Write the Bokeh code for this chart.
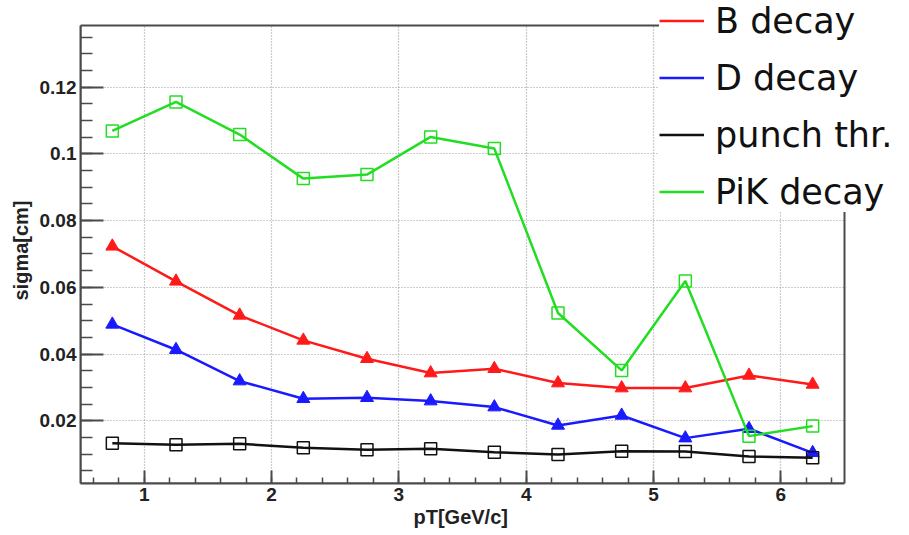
from bokeh.plotting import figure
from bokeh.models import FixedTicker, Legend, LegendItem, Range1d, BoxAnnotation, Title
from bokeh.embed import file_html
from bokeh.resources import INLINE

pt = [0.75, 1.25, 1.75, 2.25, 2.75, 3.25, 3.75, 4.25, 4.75, 5.25, 5.75, 6.25]
b_decay = [0.0723, 0.0618, 0.0516, 0.0441, 0.0386, 0.0343, 0.0356, 0.0313, 0.0298, 0.0298, 0.0336, 0.0309]
d_decay = [0.0489, 0.0413, 0.0319, 0.0266, 0.0269, 0.0259, 0.0241, 0.0186, 0.0216, 0.0148, 0.0176, 0.0104]
punch = [0.0133, 0.0128, 0.0131, 0.0119, 0.0113, 0.0116, 0.0106, 0.0099, 0.0109, 0.0108, 0.0093, 0.0089]
pik = [0.1069, 0.1156, 0.1058, 0.0926, 0.0938, 0.1051, 0.1016, 0.0523, 0.0351, 0.0619, 0.0154, 0.0184]

x_major = [1, 2, 3, 4, 5, 6]
x_minor = [round(0.6 + 0.2 * i, 2) for i in range(30)]
y_major = [0.02, 0.04, 0.06, 0.08, 0.1, 0.12]
y_minor = [round(0.005 * i, 3) for i in range(1, 28)]
y_labels = {0.02: "0.02", 0.04: "0.04", 0.06: "0.06", 0.08: "0.08", 0.1: "0.1", 0.12: "0.12"}

# axis frame extent (data units) and extra room used by the legend
X_LO, X_HI = 0.5, 6.5
Y_LO, Y_HI = 0.0012, 0.1385
X_VIEW_HI = X_LO + 829 * (X_HI - X_LO) / 764
Y_VIEW_HI = Y_HI + 25 * (Y_HI - Y_LO) / 458

FONT = "Liberation Sans"
RED = "#ff1a1a"
BLUE = "#1a1aff"
BLACK = "#111111"
GREEN = "#22dd22"
FRAME = "#4a4a4a"

p = figure(width=909, height=535, output_backend="svg", toolbar_location=None,
           x_range=Range1d(X_LO, X_VIEW_HI), y_range=Range1d(Y_LO, Y_VIEW_HI),
           min_border_left=80, min_border_right=0, min_border_top=0, min_border_bottom=52,
           background_fill_color="white", border_fill_color="white")
p.outline_line_color = None

p.xaxis.ticker = FixedTicker(ticks=x_major, minor_ticks=x_minor)
p.yaxis.ticker = FixedTicker(ticks=y_major, minor_ticks=y_minor)
p.yaxis.major_label_overrides = y_labels
p.xaxis.bounds = (X_LO, X_HI)
p.yaxis.bounds = (Y_LO, Y_HI)

for ax in (p.xaxis[0], p.yaxis[0]):
    ax.axis_line_color = FRAME
    ax.axis_line_width = 2
    ax.major_tick_line_color = FRAME
    ax.minor_tick_line_color = FRAME
    ax.major_tick_line_width = 2
    ax.minor_tick_line_width = 1.5
    ax.major_tick_out = 0
    ax.minor_tick_out = 0
    ax.major_label_text_font = FONT
    ax.major_label_text_font_style = "bold"
    ax.major_label_text_color = "#222222"

p.xaxis.major_tick_in = 13
p.xaxis.minor_tick_in = 6
p.yaxis.major_tick_in = 23
p.yaxis.minor_tick_in = 12
p.xaxis.major_label_text_font_size = "19px"
p.yaxis.major_label_text_font_size = "19px"
p.xaxis.major_label_standoff = 4
p.yaxis.major_label_standoff = 4

# axis titles, positioned along the (bounded) axes
p.add_layout(Title(text="pT[GeV/c]", align="left", offset=333, standoff=0,
                   text_font=FONT, text_font_size="20px", text_font_style="bold",
                   text_color="#222222"), "below")
p.add_layout(Title(text="sigma[cm]", align="left", offset=183, standoff=10,
                   text_font=FONT, text_font_size="20px", text_font_style="bold",
                   text_color="#222222"), "left")

p.xgrid.ticker = FixedTicker(ticks=x_major)
p.ygrid.ticker = FixedTicker(ticks=y_major)
for g in (p.xgrid[0], p.ygrid[0]):
    g.grid_line_color = "#9a9a9a"
    g.grid_line_dash = "1 2"
    g.grid_line_width = 1.2
p.xgrid.bounds = (X_LO, X_HI)
p.ygrid.bounds = (Y_LO, Y_HI)
try:
    p.xgrid[0].cross_bounds = (Y_LO, Y_HI)
    p.ygrid[0].cross_bounds = (X_LO, X_HI)
except Exception:
    pass

# frame border
p.add_layout(BoxAnnotation(left=X_LO, right=X_HI, bottom=Y_LO, top=Y_HI,
                           fill_alpha=0, line_color=FRAME, line_width=2, line_alpha=1))

series = [
    ("B decay", b_decay, RED, "triangle", True),
    ("D decay", d_decay, BLUE, "triangle", True),
    ("punch thr.", punch, BLACK, "square", False),
    ("PiK decay", pik, GREEN, "square", False),
]

items = []
for name, ys, col, mk, filled in series:
    r = p.line(pt, ys, line_color=col, line_width=2.5)
    if filled:
        p.scatter(pt, ys, marker=mk, size=13, fill_color=col, line_color=col, line_width=1)
    else:
        p.scatter(pt, ys, marker=mk, size=12, fill_color=None, line_color=col, line_width=1.5)
    items.append(LegendItem(label=name, renderers=[r]))

legend = Legend(items=items, location=(579, 271),
                label_text_font="DejaVu Sans", label_text_font_size="35px", label_text_color="#111111",
                glyph_width=45, glyph_height=41, label_height=41, label_standoff=11,
                spacing=16, padding=3, margin=0,
                background_fill_color="white", background_fill_alpha=1.0,
                border_line_color=None)
p.add_layout(legend, "center")

open("out.html", "w").write(file_html(p, INLINE))
